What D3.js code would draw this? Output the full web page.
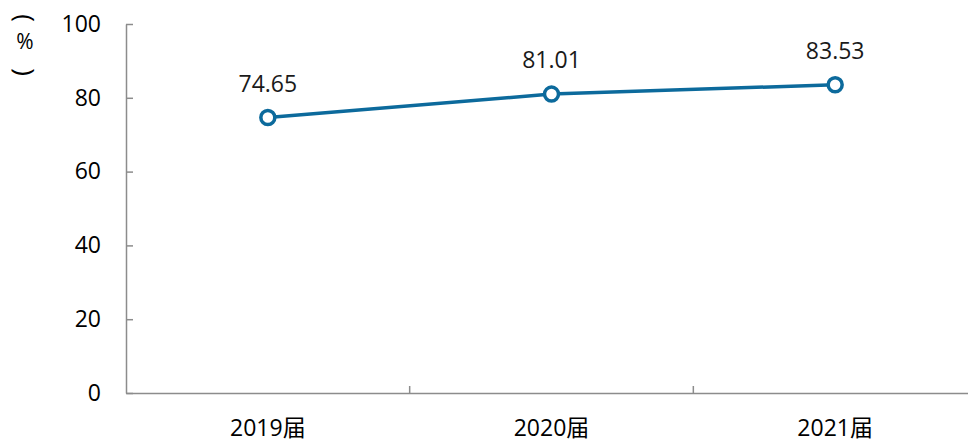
<!DOCTYPE html>
<html><head><meta charset="utf-8">
<script src="https://cdn.jsdelivr.net/npm/d3@7"></script>
<style>body{margin:0;background:#fff}svg{display:block}</style>
</head><body>
<script>
const categories = ["2019届", "2020届", "2021届"];
const values = [74.65, 81.01, 83.53];
const yTicks = [0, 20, 40, 60, 80, 100];

const W = 968, H = 445;
const font = "'Open Sans','Noto Sans CJK SC',sans-serif";
const fs = 23;
const svg = d3.select("body").append("svg").attr("width", W).attr("height", H)
  .style("font-family", font);

const x = d3.scaleBand().domain(categories).range([126, 977]);
const y = d3.scaleLinear().domain([0, 100]).range([393, 24]);
const axisColor = "#8c8c8c";

// y axis
const ya = svg.append("g").attr("transform", "translate(126,0)")
  .call(d3.axisLeft(y).tickValues(yTicks).tickSize(-7).tickPadding(25).tickSizeOuter(0));
ya.select(".domain").attr("stroke", axisColor).attr("stroke-width", 1.5);
ya.selectAll(".tick line").attr("stroke", axisColor).attr("stroke-width", 1.5);
ya.selectAll(".tick text").attr("font-size", fs).attr("fill", "#000").attr("font-family", font);

// x axis
const xa = svg.append("g").attr("transform", "translate(0,393)")
  .call(d3.axisBottom(x).tickSize(0).tickSizeOuter(0).tickPadding(27));
xa.select(".domain").attr("stroke", axisColor).attr("stroke-width", 1.5);
xa.selectAll(".tick text").attr("font-size", fs).attr("fill", "#000").attr("font-family", font);
// category boundary ticks
xa.selectAll(".bt").data(categories.slice(1)).enter().append("line").attr("class", "bt")
  .attr("x1", d => x(d)).attr("x2", d => x(d)).attr("y1", 0).attr("y2", -7)
  .attr("stroke", axisColor).attr("stroke-width", 1.5);

// y title (%) – vertical: rotated parentheses above and below an upright %
const tg = svg.append("g").attr("fill", "#000").attr("font-family", "'Open Sans',sans-serif");
tg.append("text").attr("transform", "translate(25,18) rotate(90)").attr("text-anchor", "middle")
  .attr("dy", "0.35em").attr("font-size", 26).text("(");
tg.append("text").attr("x", 25).attr("y", 49).attr("text-anchor", "middle").attr("font-size", 21).text("%");
tg.append("text").attr("transform", "translate(25,72) rotate(90)").attr("text-anchor", "middle")
  .attr("dy", "0.35em").attr("font-size", 26).text(")");

// line
const cx = d => x(d) + x.bandwidth() / 2;
const color = "#0c6a9c";
const pts = categories.map((c, i) => [cx(c), y(values[i])]);
svg.append("path").datum(pts).attr("d", d3.line()).attr("fill", "none")
  .attr("stroke", color).attr("stroke-width", 3.5);
svg.selectAll("circle.m").data(pts).enter().append("circle").attr("class", "m")
  .attr("cx", d => d[0]).attr("cy", d => d[1]).attr("r", 7)
  .attr("fill", "#fff").attr("stroke", color).attr("stroke-width", 3.5);
svg.selectAll("text.lbl").data(categories).enter().append("text").attr("class", "lbl")
  .attr("x", cx).attr("y", (c, i) => y(values[i]) - 26).attr("text-anchor", "middle")
  .attr("font-size", fs).attr("fill", "#1a1a1a").text((c, i) => values[i].toFixed(2));
</script>
</body></html>
